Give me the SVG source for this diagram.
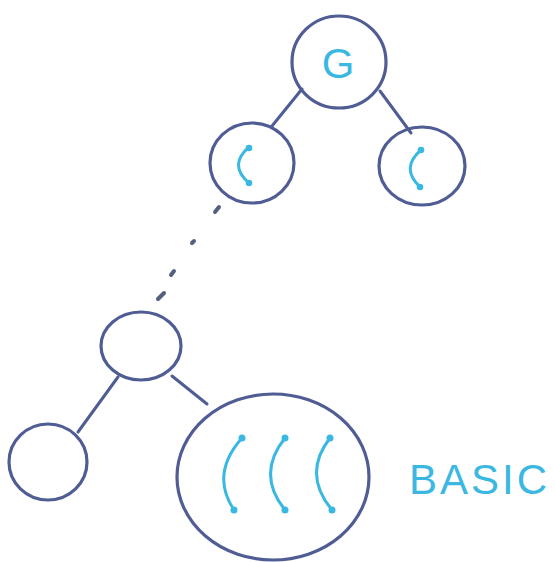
<svg xmlns="http://www.w3.org/2000/svg" width="555" height="562" viewBox="0 0 555 562">
<style>
.n{fill:none;stroke:#4f5d94;stroke-width:3.2;stroke-linecap:round}
.e{fill:none;stroke:#4f5d94;stroke-width:3;stroke-linecap:round}
.dot{fill:none;stroke:#55607f;stroke-width:4;stroke-linecap:round}
.arc{fill:none;stroke:#3bb8e2;stroke-width:3;stroke-linecap:round}
.end{fill:#3bb8e2}
.t{fill:#3bb8e2;font-family:"Liberation Sans",Arial,sans-serif}
</style>
<rect width="555" height="562" fill="#ffffff"/>
<g id="connectors">
<line class="e" x1="302" y1="89" x2="272" y2="126"/>
<line class="e" x1="380" y1="91" x2="411" y2="133"/>
<g id="dotted">
<line class="dot" x1="215" y1="212" x2="219" y2="207"/>
<line class="dot" x1="192" y1="243" x2="194" y2="241"/>
<line class="dot" x1="171" y1="275" x2="174" y2="271"/>
<line class="dot" x1="158" y1="299" x2="164" y2="293"/>
</g>
<line class="e" x1="118" y1="377" x2="78" y2="432"/>
<line class="e" x1="172" y1="376" x2="207" y2="404"/>
</g>
<g id="node-G">
<ellipse class="n" cx="339" cy="62" rx="47" ry="46"/>
<text class="t" x="338" y="78" font-size="42" text-anchor="middle">G</text>
</g>
<g id="node-C1">
<ellipse class="n" cx="252" cy="163" rx="42" ry="40"/>
<path class="arc" d="M249 147 Q228 165 249 183"/>
<circle class="end" cx="249" cy="148" r="3.3"/>
<circle class="end" cx="249" cy="183" r="3.3"/>
</g>
<g id="node-C2">
<ellipse class="n" cx="422" cy="166" rx="43" ry="39"/>
<path class="arc" d="M421 150 Q400 168 420 187"/>
<circle class="end" cx="421" cy="150" r="3.3"/>
<circle class="end" cx="420" cy="187" r="3.3"/>
</g>
<g id="node-mid">
<ellipse class="n" cx="141" cy="346" rx="40" ry="34"/>
</g>
<g id="node-left">
<ellipse class="n" cx="48" cy="462" rx="39" ry="38"/>
</g>
<g id="node-basic">
<ellipse class="n" cx="273" cy="477" rx="96" ry="83"/>
<path class="arc" d="M242 438 Q210 474 234 510"/>
<circle class="end" cx="242" cy="438" r="3.5"/>
<circle class="end" cx="234" cy="510" r="3.5"/>
<path class="arc" d="M285 438 Q256 474 285 510"/>
<circle class="end" cx="285" cy="438" r="3.5"/>
<circle class="end" cx="285" cy="510" r="3.5"/>
<path class="arc" d="M330 438 Q302 474 332 510"/>
<circle class="end" cx="330" cy="438" r="3.5"/>
<circle class="end" cx="332" cy="510" r="3.5"/>
</g>
<text class="t" x="409" y="494" font-size="42" letter-spacing="3">BASIC</text>
</svg>
